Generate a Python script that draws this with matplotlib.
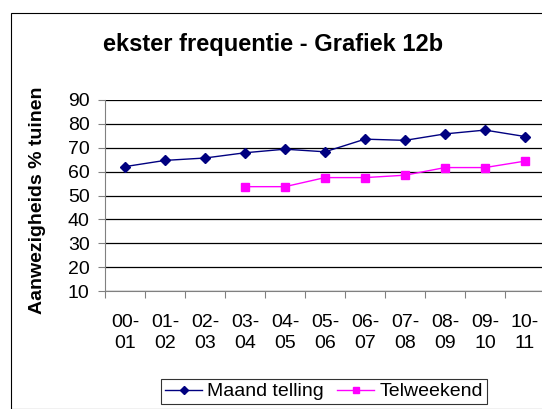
import matplotlib
matplotlib.use("Agg")
import matplotlib.pyplot as plt
from matplotlib.patches import Rectangle
import numpy as np

categories = ["00-\n01", "01-\n02", "02-\n03", "03-\n04", "04-\n05", "05-\n06",
              "06-\n07", "07-\n08", "08-\n09", "09-\n10", "10-\n11"]
maand = [62.1, 64.7, 65.7, 67.9, 69.4, 68.3, 73.6, 73.1, 75.8, 77.4, 74.7]
telweekend = [None, None, None, 53.7, 53.7, 57.5, 57.5, 58.5, 61.7, 61.7, 64.4]
yticks = [10, 20, 30, 40, 50, 60, 70, 80, 90]

plt.rcParams['font.family'] = ['Liberation Sans', 'DejaVu Sans']

fig = plt.figure(figsize=(5.42, 4.09), dpi=100)
W, H = 542, 409
fig.patches.append(Rectangle((11 / W, 0), 1.0, 1 - 13 / H, transform=fig.transFigure,
                             fill=False, edgecolor='black', linewidth=0.8))

ax = fig.add_axes([105 / W, (H - 291) / H, 440 / W, 191 / H])
x = np.arange(len(categories))
ax.plot(x, maand, color='#000080', marker='D', markersize=5.5, linewidth=1.0,
        label='Maand telling')
tx = [i for i, v in enumerate(telweekend) if v is not None]
tv = [v for v in telweekend if v is not None]
ax.plot(tx, tv, color='#FF00FF', marker='s', markersize=5.2, linewidth=1.0,
        label='Telweekend')

ax.set_xlim(-0.5, len(categories) - 0.5)
ax.set_ylim(10, 90)
ax.set_yticks(yticks)
ax.set_yticklabels([str(t) for t in yticks], fontsize=14)
ax.yaxis.grid(True, color='black', linewidth=0.9)
ax.set_axisbelow(True)

ax.set_xticks(np.arange(-0.5, len(categories), 1.0))
ax.set_xticklabels([])
ax.set_xticks(x, minor=True)
ax.set_xticklabels(categories, minor=True, fontsize=14, linespacing=1.32)
ax.tick_params(axis='x', which='minor', length=0, pad=16.5)
ax.tick_params(axis='x', which='major', length=5, direction='out', color='#808080')
ax.tick_params(axis='y', length=5, direction='out', color='#808080', pad=6)

for s in ['top', 'right']:
    ax.spines[s].set_visible(False)
ax.spines['left'].set_color('#808080')
ax.spines['bottom'].set_color('#808080')

fig.text(38 / W, 1 - 200 / H, 'Aanwezigheids % tuinen', fontsize=14, fontweight='bold',
         rotation=90, ha='center', va='center')
fig.text(273 / W, 1 - 45 / H, 'ekster frequentie - Grafiek 12b', fontsize=17,
         fontweight='bold', ha='center', va='center')

leg = fig.legend(loc='center', bbox_to_anchor=(324 / W, 1 - 391.5 / H), ncol=2,
                 fontsize=14, frameon=True, fancybox=False, edgecolor='black',
                 handlelength=1.9, handletextpad=0.25, columnspacing=0.7,
                 borderpad=0.2, markerscale=0.7)
leg.get_frame().set_linewidth(0.8)

fig.savefig('out.png', dpi=100)
